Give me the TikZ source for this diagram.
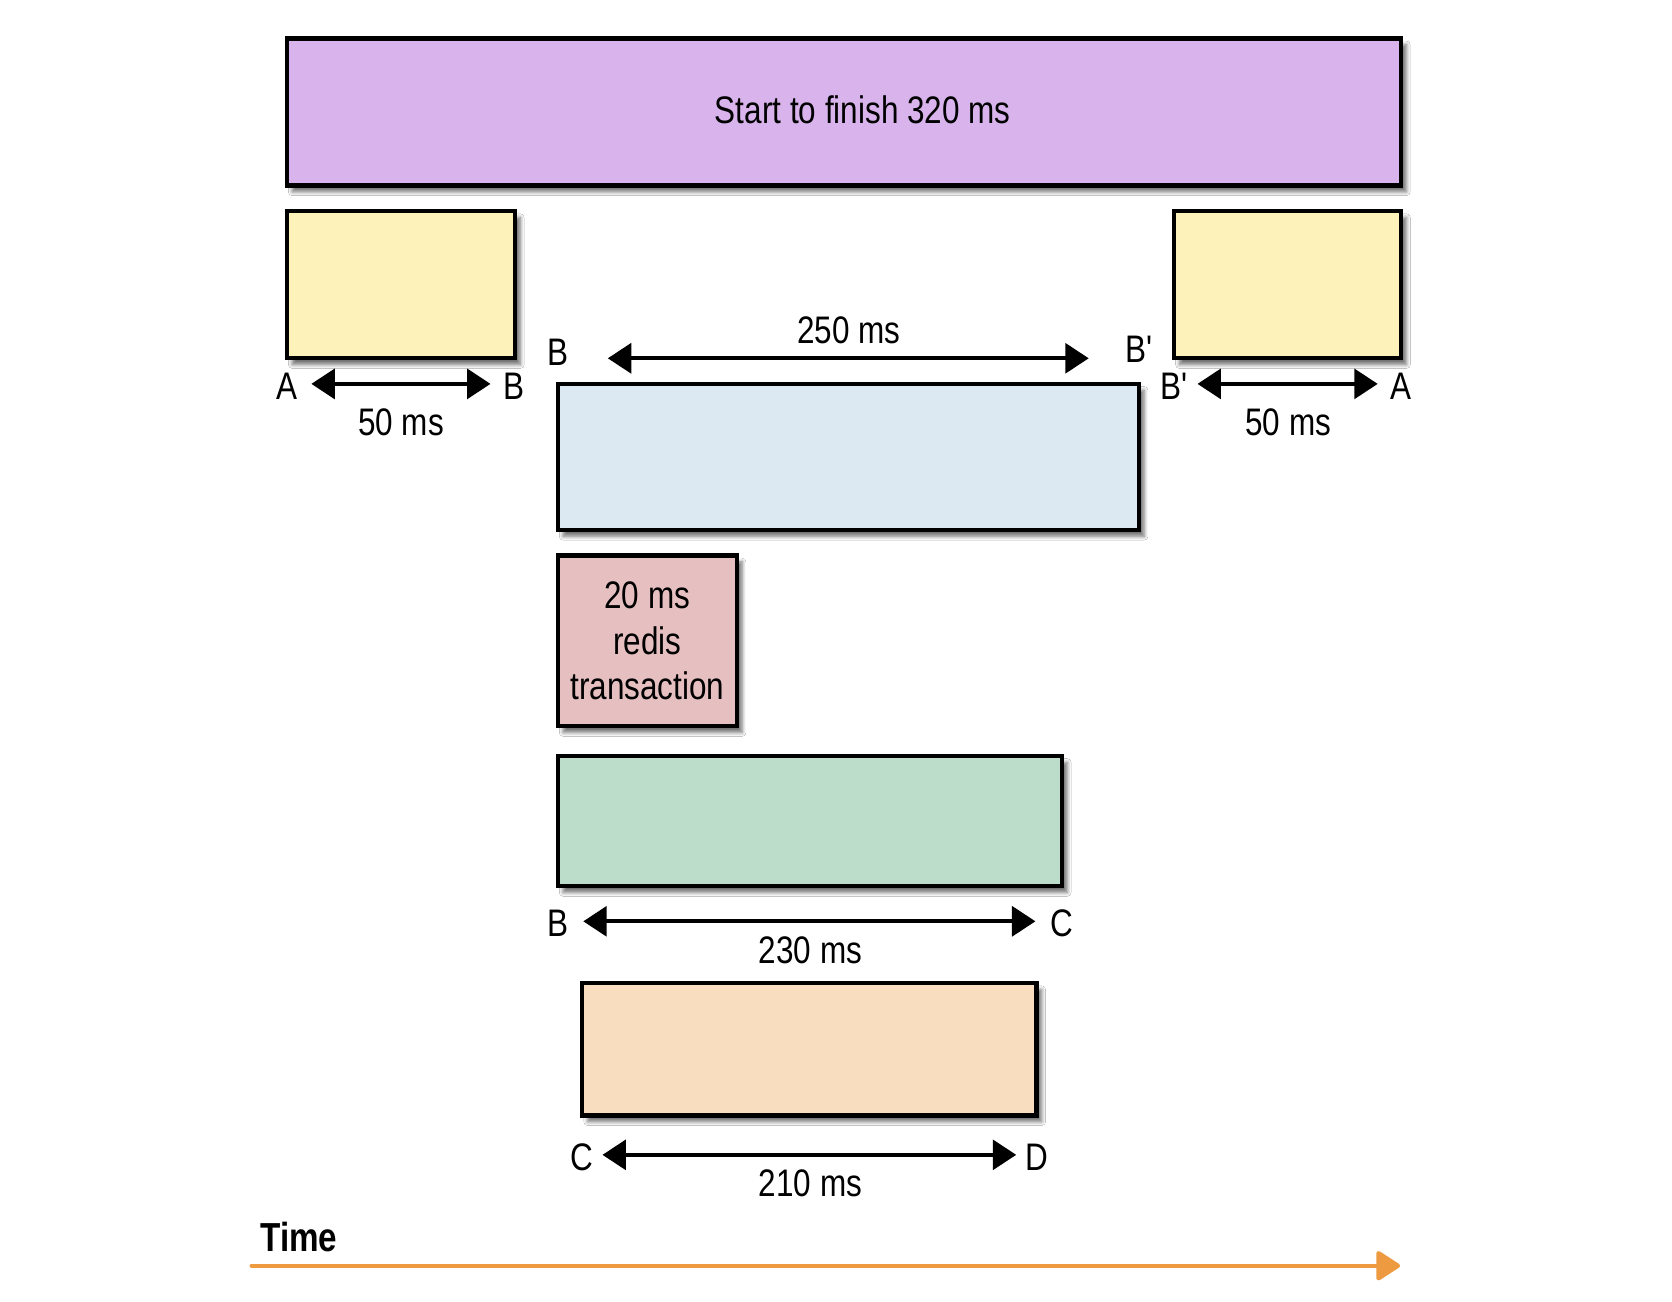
\documentclass[tikz,border=0pt]{standalone}
\usepackage{fontspec}
\setmainfont{Liberation Sans}[FakeStretch=0.82, Ligatures=TeXOff]
\usetikzlibrary{arrows.meta,shadows.blur}
\definecolor{cpurple}{HTML}{D9B3EC}
\definecolor{cyellow}{HTML}{FDF2B9}
\definecolor{cblue}{HTML}{DCE9F2}
\definecolor{cpink}{HTML}{E6C0C1}
\definecolor{cgreen}{HTML}{BBDDC9}
\definecolor{cpeach}{HTML}{F8DDBF}
\definecolor{corange}{HTML}{EE9A40}
\tikzset{
  bar/.style={draw=black, line width=4pt, blur shadow={shadow xshift=5pt, shadow yshift=-6pt, shadow blur steps=6, shadow blur radius=3.5pt, shadow opacity=55}},
  lbl/.style={font=\fontsize{36}{42}\selectfont, inner sep=0pt},
  dim/.style={line width=3.5pt, {Triangle[length=22pt,width=28pt,fill=black]}-{Triangle[length=22pt,width=28pt,fill=black]}},
}
\begin{document}
\begin{tikzpicture}[x=1pt,y=-1pt]
\useasboundingbox (0,0) rectangle (1568,1221);
\fill[white] (0,0) rectangle (1568,1221);
% boxes
\draw[bar, fill=cpurple] (269,36) rectangle (1314,174);
\node[lbl] (total) at (809,103) {Start to finish 320 ms};
\draw[bar, fill=cyellow] (269,198) rectangle (483,336);
\draw[bar, fill=cyellow] (1101,198) rectangle (1314,336);
\draw[bar, fill=cblue] (523,360) rectangle (1068,497);
\draw[bar, fill=cpink] (523,521) rectangle (691,681);
\node[lbl, align=center, font=\fontsize{36}{43}\selectfont] (redis) at (607,601) {20 ms\\redis\\transaction};
\draw[bar, fill=cgreen] (523,709) rectangle (996,831);
\draw[bar, fill=cpeach] (546,922) rectangle (972,1046);
% left A-B
\node[lbl] (la) at (269,362) {A};
\node[lbl] (lb) at (482,362) {B};
\coordinate (la1) at (292,360);
\coordinate (lb1) at (460,360);
\draw[dim] (la1) -- (lb1);
\node[lbl] (l50) at (376,396) {50 ms};
% B-B' 250
\node[lbl] (mb) at (523,330) {B};
\node[lbl] (mbp) at (1068,328) {B'};
\coordinate (mb1) at (570,336);
\coordinate (mbp1) at (1021,336);
\draw[dim] (mb1) -- (mbp1);
\node[lbl] (m250) at (796,310) {250 ms};
% right B'-A
\node[lbl] (rbp) at (1101,362) {B'};
\node[lbl] (ra) at (1314,362) {A};
\coordinate (rbp1) at (1123,360);
\coordinate (ra1) at (1292,360);
\draw[dim] (rbp1) -- (ra1);
\node[lbl] (r50) at (1208,396) {50 ms};
% B-C 230
\node[lbl] (gb) at (523,866) {B};
\node[lbl] (gc) at (996,866) {C};
\coordinate (gb1) at (547,864);
\coordinate (gc1) at (971,864);
\draw[dim] (gb1) -- (gc1);
\node[lbl] (g230) at (760,891) {230 ms};
% C-D 210
\node[lbl] (pc) at (546,1085) {C};
\node[lbl] (pd) at (972,1085) {D};
\coordinate (pc1) at (565,1083);
\coordinate (pd1) at (953,1083);
\draw[dim] (pc1) -- (pd1);
\node[lbl] (p210) at (760,1110) {210 ms};
% time axis
\node[lbl, font=\fontsize{38}{44}\bfseries\selectfont, anchor=west] (time) at (244,1160) {Time};
\coordinate (t0) at (236,1187);
\coordinate (t1) at (1313,1187);
\draw[corange, line width=4pt, line cap=round, -{Triangle[length=24pt,width=30pt,round]}] (t0) -- (t1);
\end{tikzpicture}
\end{document}
